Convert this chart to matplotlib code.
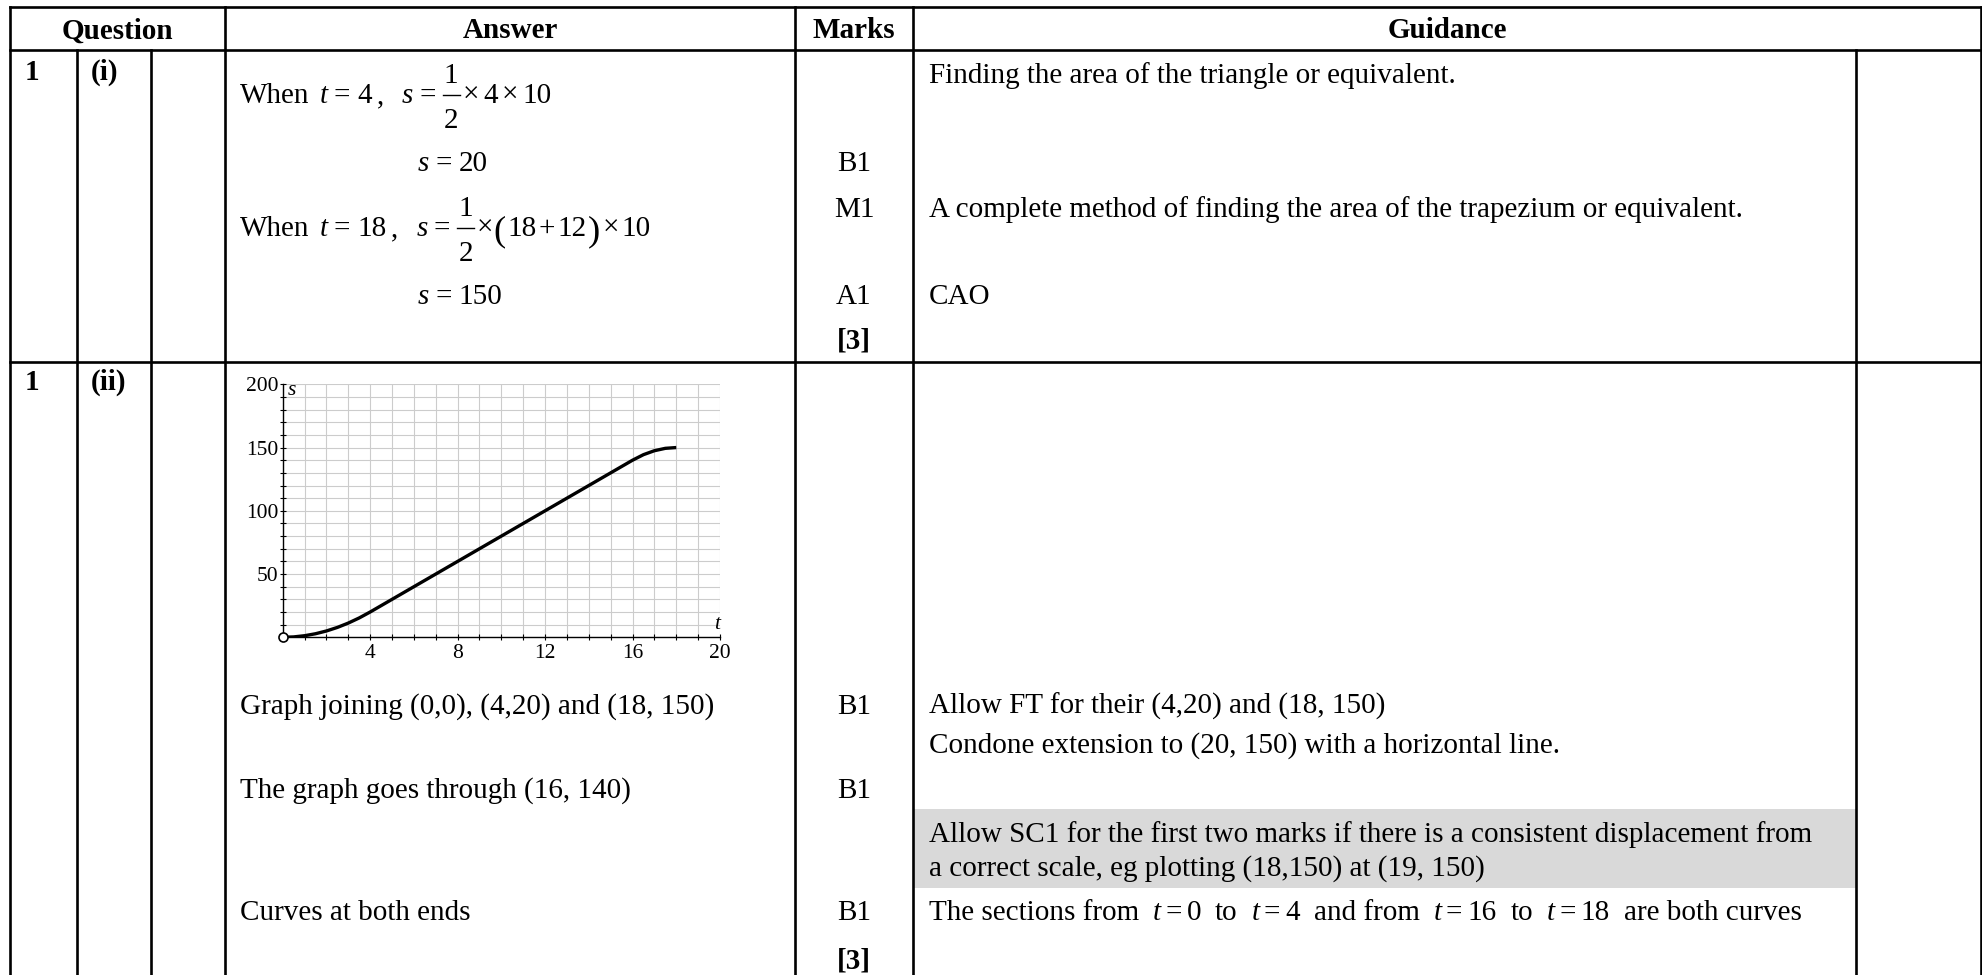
import matplotlib
matplotlib.use("Agg")
import matplotlib.pyplot as plt
from matplotlib.ticker import FixedLocator, MultipleLocator

# ---------------- data ----------------
# displacement-time graph
t_vals = [0, 0.5, 1, 1.5, 2, 2.5, 3, 3.5, 4, 16, 16.5, 17, 17.5, 18]
s_vals = [0, 0.31, 1.25, 2.81, 5, 7.81, 11.25, 15.31, 20, 140, 144.38, 147.5, 149.38, 150]
x_tick_vals = [4, 8, 12, 16, 20]
y_tick_vals = [50, 100, 150, 200]
x_limits = [0, 20]
y_limits = [0, 200]

headers = ["Question", "Answer", "Marks", "Guidance"]
row1_marks = ["B1", "M1", "A1", "[3]"]
row1_guidance = ["Finding the area of the triangle or equivalent.",
                 "A complete method of finding the area of the trapezium or equivalent.",
                 "CAO"]
row2_answers = ["Graph joining (0,0), (4,20) and (18, 150)",
                "The graph goes through (16, 140)",
                "Curves at both ends"]
row2_marks = ["B1", "B1", "B1", "[3]"]
row2_guidance = ["Allow FT for their (4,20) and (18, 150)",
                 "Condone extension to (20, 150) with a horizontal line.",
                 "Allow SC1 for the first two marks if there is a consistent displacement from",
                 "a correct scale, eg plotting (18,150) at (19, 150)"]

# ---------------- layout ----------------
W, H = 1982, 975
SERIF = "Liberation Serif"
FS = 21          # main text size (pt)
TFS = 15.5       # chart tick label size

fig = plt.figure(figsize=(W / 100, H / 100), dpi=100)
fig.patch.set_facecolor("white")
ov = fig.add_axes([0, 0, 1, 1])
ov.set_xlim(0, W)
ov.set_ylim(H, 0)
ov.axis("off")
renderer = fig.canvas.get_renderer()

X0, X1, X2, X3, X4, X5, X6, X7 = 10, 76.5, 151, 225, 795, 913, 1856, 1981
Y0, Y1, Y2, YB = 7, 50, 362, 990
LW = 1.9

# grey shading
ov.add_patch(plt.Rectangle((X5, 809), X6 - X5, 887.5 - 809, facecolor="#d9d9d9",
                           edgecolor="none", zorder=0))

def hline(y, xa, xb):
    ov.plot([xa, xb], [y, y], color="black", lw=LW, solid_capstyle="projecting", zorder=3)

def vline(x, ya, yb):
    ov.plot([x, x], [ya, yb], color="black", lw=LW, solid_capstyle="projecting", zorder=3)

hline(Y0, X0, X7)
hline(Y1, X0, X7)
hline(Y2, X0, X7)
vline(X0, Y0, YB)
vline(X1, Y1, YB)
vline(X2, Y1, YB)
vline(X3, Y0, YB)
vline(X4, Y0, YB)
vline(X5, Y0, YB)
vline(X6, Y1, YB)
vline(X7, Y0, YB)


def put(x, y, s, style="normal", weight="normal", size=FS, ha="left"):
    return ov.text(x, y, s, fontsize=size, family=SERIF, style=style,
                   weight=weight, ha=ha, va="baseline", zorder=4)


def width(t):
    return t.get_window_extent(renderer).width


def run(x, y, pieces):
    for p in pieces:
        kind = p[0]
        if kind == "frac":
            gap = p[1]
            x += gap
            fw = 17
            ov.plot([x, x + fw], [y - 8, y - 8], color="black", lw=1.0, zorder=4)
            put(x + fw / 2, y - 20, "1", ha="center")
            put(x + fw / 2, y + 25, "2", ha="center")
            x += fw
        else:
            txt, style, gap = p[1], p[2], p[3]
            size = p[4] if len(p) > 4 else FS
            dy = p[5] if len(p) > 5 else 0
            x += gap
            t = put(x, y + dy, txt, style=style, size=size)
            x += width(t)
    return x

# headers
HB = 38.3
put((X0 + X3) / 2, HB, headers[0], weight="bold", ha="center")
put((X3 + X4) / 2, HB, headers[1], weight="bold", ha="center")
put((X4 + X5) / 2, HB, headers[2], weight="bold", ha="center")
put((X5 + X7) / 2, HB, headers[3], weight="bold", ha="center")

# question numbers
put(25, 79.5, "1", weight="bold")
put(91, 79.5, "(i)", weight="bold")
put(25, 390, "1", weight="bold")
put(91, 390, "(ii)", weight="bold")

N, I = "normal", "italic"
TIMES = "\u00d7"
# row 1 answer
run(240, 103, [("t", "When", N, 0), ("t", "t", I, 10), ("t", "=", N, 6), ("t", "4", N, 7),
               ("t", ",", N, 5), ("t", "s", I, 18), ("t", "=", N, 6), ("frac", 7),
               ("t", TIMES, N, 3), ("t", "4", N, 4), ("t", TIMES, N, 4), ("t", "10", N, 4)])
run(418, 171, [("t", "s", I, 0), ("t", "=", N, 6), ("t", "20", N, 7)])
run(240, 236, [("t", "When", N, 0), ("t", "t", I, 10), ("t", "=", N, 6), ("t", "18", N, 7),
               ("t", ",", N, 5), ("t", "s", I, 18), ("t", "=", N, 6), ("frac", 7),
               ("t", TIMES, N, 2), ("t", "(", N, 1, FS * 1.25, 4), ("t", "18", N, 2),
               ("t", "+", N, 2), ("t", "12", N, 2), ("t", ")", N, 1, FS * 1.25, 4),
               ("t", TIMES, N, 3), ("t", "10", N, 2)])
run(418, 304, [("t", "s", I, 0), ("t", "=", N, 6), ("t", "150", N, 7)])

# row 1 marks
MX = (X4 + X5) / 2
for txt, yb in zip(row1_marks, [171, 217, 304, 348]):
    put(MX, yb, txt, weight="bold" if txt.startswith("[") else "normal", ha="center")

# row 1 guidance
GX = 929
for txt, yb in zip(row1_guidance, [83, 217, 304]):
    put(GX, yb, txt)

# row 2 answers
for txt, yb in zip(row2_answers, [714, 798, 919.5]):
    put(240, yb, txt)
for txt, yb in zip(row2_marks, [714, 798, 919.5, 968]):
    put(MX, yb, txt, weight="bold" if txt.startswith("[") else "normal", ha="center")
for txt, yb in zip(row2_guidance, [714, 753, 842, 876]):
    put(GX, yb, txt)
run(GX, 920, [("t", "The sections from", N, 0), ("t", "t", I, 14), ("t", "=", N, 4), ("t", "0", N, 5),
              ("t", "to", N, 14), ("t", "t", I, 14), ("t", "=", N, 4), ("t", "4", N, 5),
              ("t", "and from", N, 14), ("t", "t", I, 14), ("t", "=", N, 4), ("t", "16", N, 5),
              ("t", "to", N, 14), ("t", "t", I, 14), ("t", "=", N, 4), ("t", "18", N, 5),
              ("t", "are both curves", N, 14)])

# ---------------- chart ----------------
AL, AR, AB, AT = 282.7, 720.0, 637.3, 384.3
ax = fig.add_axes([AL / W, 1 - AB / H, (AR - AL) / W, (AB - AT) / H])
ax.set_xlim(*x_limits)
ax.set_ylim(*y_limits)
ax.set_facecolor("white")
for side in ("top", "right"):
    ax.spines[side].set_visible(False)
for side in ("left", "bottom"):
    ax.spines[side].set_linewidth(1.0)
    ax.spines[side].set_zorder(3)
ax.xaxis.set_major_locator(FixedLocator(x_tick_vals))
ax.yaxis.set_major_locator(FixedLocator(y_tick_vals))
ax.xaxis.set_minor_locator(MultipleLocator(1))
ax.yaxis.set_minor_locator(MultipleLocator(10))
ax.grid(which="both", color="#cccccc", lw=0.8)
ax.set_axisbelow(True)
ax.tick_params(which="both", direction="inout", length=5, width=0.8, color="black")
ax.tick_params(axis="x", pad=2.0)
ax.tick_params(axis="y", pad=0.5)
for lab in ax.get_xticklabels() + ax.get_yticklabels():
    lab.set_fontfamily(SERIF)
    lab.set_fontsize(TFS)
ax.plot(t_vals, s_vals, color="black", lw=2.4, solid_capstyle="butt", zorder=4)
ax.plot([t_vals[0]], [s_vals[0]], "o", mfc="white", mec="black", ms=6.5, mew=1.2,
        clip_on=False, zorder=5)
ax.text(0.25, 195, "s", fontsize=TFS, family=SERIF, style="italic", ha="left", va="center")
ax.text(19.85, 10, "t", fontsize=TFS, family=SERIF, style="italic", ha="center", va="center")

fig.savefig("out.png", dpi=100, facecolor="white")
